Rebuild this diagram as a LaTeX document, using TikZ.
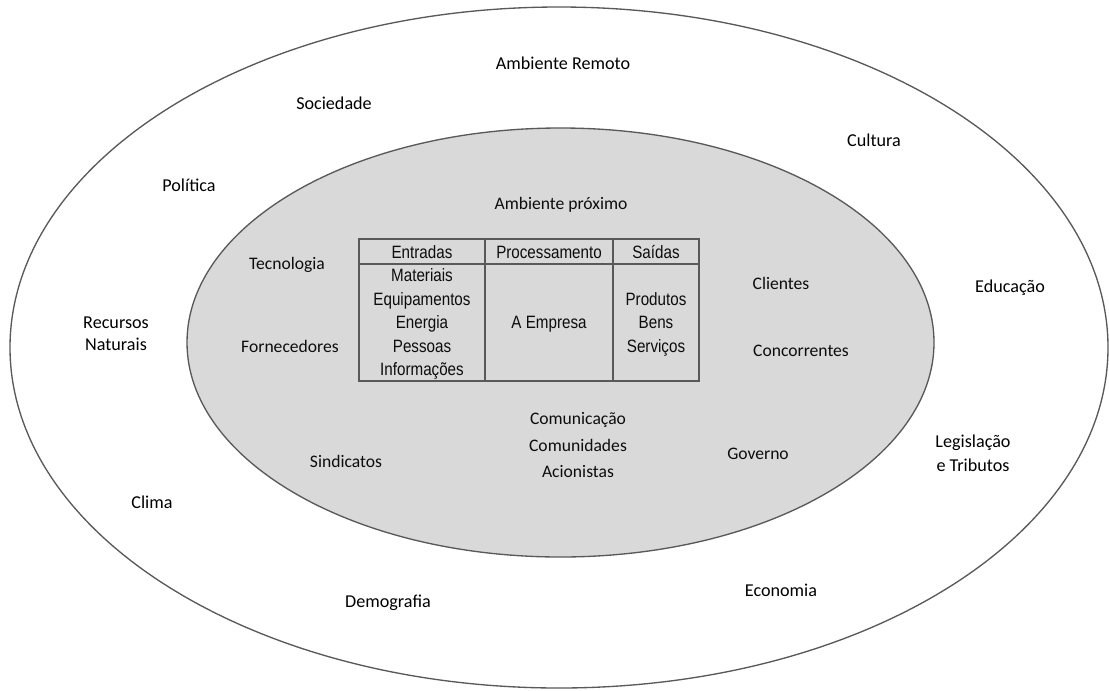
\documentclass[tikz,border=0pt]{standalone}
\usepackage{fontspec}
\setmainfont{Carlito}
\newfontfamily\narrowfont[FakeStretch=0.85]{Liberation Sans}
\usetikzlibrary{positioning}
\definecolor{fundo}{HTML}{D9D9D9}
\definecolor{borda}{HTML}{595959}
\tikzset{
  % Outer (remote) environment labels
  remoto/.style={align=center, inner sep=0pt,
    font=\fontsize{13.6}{16.5}\selectfont},
  % Inner (near) environment labels
  proximo/.style={align=center, inner sep=0pt,
    font=\fontsize{13.2}{19.9}\selectfont, text=black!95},
  % Table cells
  celula/.style={align=center, inner sep=0pt,
    font=\narrowfont\fontsize{13.4}{17.6}\selectfont, text=black!95},
  % Ellipse borders
  contorno/.style={draw=borda, line width=1pt},
}

\begin{document}
\begin{tikzpicture}[x=0.75pt, y=-0.75pt]
  \useasboundingbox (0,0) rectangle (1109,690);

  % ambientes
  \draw[contorno, fill=white] (559,347.5) ellipse [x radius=549, y radius=340.5];
  \draw[contorno, fill=fundo] (560.5,342.5) ellipse [x radius=373.5, y radius=214.5];

  % ambiente remoto
  \node[remoto] (remoto) at (563,63) {Ambiente Remoto};
  \node[remoto] (sociedade) at (334,103) {Sociedade};
  \node[remoto] (cultura) at (874,140) {Cultura};
  \node[remoto] (politica) at (189,185) {Política};
  \node[remoto] (educacao) at (1010,288) {Educação};
  \node[remoto] (recursos) at (116,334) {Recursos\\Naturais};
  \node[remoto, font=\fontsize{13.6}{18}\selectfont] (legislacao) at (973,453) {Legislação\\e Tributos};
  \node[remoto] (clima) at (152,502) {Clima};
  \node[remoto] (demografia) at (388,603) {Demografia};
  \node[remoto] (economia) at (781,590) {Economia};

  % ambiente proximo
  \node[proximo] (proximo) at (561,205) {Ambiente próximo};
  \node[proximo] (tecnologia) at (287,265) {Tecnologia};
  \node[proximo] (fornecedores) at (290,346) {Fornecedores};
  \node[proximo] (clientes) at (781,283) {Clientes};
  \node[proximo] (concorrentes) at (801,351) {Concorrentes};
  \node[proximo] (sindicatos) at (346,461) {Sindicatos};
  \node[proximo] (comunicacao) at (578,445) {Comunicação\\Comunidades\\Acionistas};
  \node[proximo] (governo) at (758,454) {Governo};

  % a empresa
  \draw[borda, line width=1.2pt] (359,239) rectangle (699,381);
  \draw[borda, line width=1.2pt] (359,264) -- (699,264);
  \draw[borda, line width=1.2pt] (485,239) -- (485,381);
  \draw[borda, line width=1.2pt] (613,239) -- (613,381);

  \node[celula] (entradas) at (422,252) {Entradas};
  \node[celula] (processamento) at (549,252) {Processamento};
  \node[celula] (saidas) at (656,252) {Saídas};
  \node[celula] (insumos) at (422,324) {Materiais\\Equipamentos\\Energia\\Pessoas\\Informações};
  \node[celula] (empresa) at (549,324) {A Empresa};
  \node[celula] (produtos) at (656,324) {Produtos\\Bens\\Serviços};
\end{tikzpicture}
\end{document}
